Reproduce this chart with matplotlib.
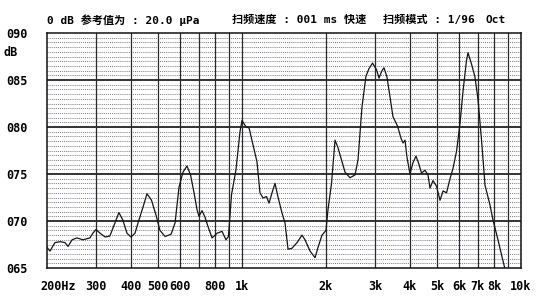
import numpy as np
import matplotlib
matplotlib.use("Agg")
import matplotlib.pyplot as plt
from matplotlib.transforms import ScaledTranslation

# Sweep response (frequency in Hz, level in dB)
freq_hz = [200, 205, 213.5, 223, 232, 238, 246, 256, 269, 285,
           292, 299.7, 310, 323, 336, 350.5, 362, 374, 387, 400,
           413.5, 424, 442, 456.5, 474, 492, 508, 530, 557, 575.5,
           594.5, 614.5, 635, 654, 673, 690, 701, 719, 737, 755.5,
           781, 814, 848, 876, 894, 917, 951, 983.5, 1000, 1034,
           1060, 1095, 1131.5, 1160, 1189, 1224, 1250, 1281, 1313, 1346,
           1391, 1426, 1462, 1510, 1575, 1641, 1682, 1753, 1827, 1873,
           1935, 2000, 2033, 2093, 2155, 2208, 2273, 2340, 2438, 2541,
           2605, 2691, 2781, 2851, 2936, 3035, 3098, 3175, 3228, 3309,
           3392, 3476, 3609, 3715, 3777, 3840, 3901, 4000, 4100, 4203,
           4290, 4398, 4527, 4641, 4719, 4837, 4978, 5125, 5254, 5409,
           5566, 5706, 5873, 6046, 6197, 6378, 6458, 6647, 6842, 7014,
           7220, 7431, 7742, 7937, 8270, 8547, 8763]
level_db = [67.2, 66.8, 67.7, 67.8, 67.7, 67.3, 68.0, 68.2, 68.0, 68.2,
            68.7, 69.1, 68.7, 68.3, 68.4, 69.8, 70.9, 70.1, 68.7, 68.3,
            68.7, 69.8, 71.5, 72.9, 72.2, 70.6, 69.0, 68.35, 68.6, 69.8,
            73.6, 75.2, 75.85, 74.9, 73.0, 71.2, 70.5, 71.1, 70.4, 69.4,
            68.2, 68.7, 68.9, 68.0, 68.35, 72.8, 75.4, 79.5, 80.7, 80.0,
            79.9, 78.1, 76.3, 73.0, 72.45, 72.6, 71.9, 73.0, 74.0, 72.55,
            70.85, 69.8, 67.0, 67.1, 67.7, 68.5, 68.0, 66.8, 66.1, 67.2,
            68.5, 69.0, 71.2, 74.0, 78.6, 77.8, 76.5, 75.2, 74.6, 74.9,
            76.5, 82.1, 85.4, 86.2, 86.8, 86.1, 85.2, 86.0, 86.3, 85.3,
            83.2, 81.1, 80.1, 78.8, 78.3, 78.6, 76.8, 75.0, 76.2, 76.9,
            76.2, 75.1, 75.4, 74.9, 73.5, 74.3, 73.7, 72.2, 73.2, 73.0,
            74.5, 75.6, 77.4, 80.4, 83.8, 87.1, 87.9, 86.7, 85.3, 82.9,
            78.6, 73.8, 71.7, 70.1, 68.0, 66.2, 64.9]

x_ticks = [200, 300, 400, 500, 600, 800, 1000, 2000, 3000, 4000,
           5000, 6000, 7000, 8000, 10000]
x_labels = ["200Hz", "300", "400", "500", "600", "800", "1k", "2k", "3k",
            "4k", "5k", "6k", "7k", "8k", "10k"]
y_ticks = [65, 70, 75, 80, 85, 90]
y_labels = ["065", "070", "075", "080", "085", "090"]
v_lines = [300, 400, 500, 600, 700, 800, 900, 1000,
           2000, 3000, 4000, 5000, 6000, 7000, 8000, 9000]

mono = ["DejaVu Sans Mono", "Noto Sans CJK SC"]
plt.rcParams["font.family"] = mono
plt.rcParams["font.weight"] = "bold"

fig = plt.figure(figsize=(5.5, 3.01), dpi=100)
fig.patch.set_facecolor("white")
ax = fig.add_axes([47 / 550, 1 - 268 / 301, 474 / 550, 235 / 301])
ax.set_xscale("log")
ax.set_xlim(200, 10000)
ax.set_ylim(65, 90)

# dotted 0.5 dB rows
for y in np.arange(65.5, 90, 0.5):
    if y % 5 == 0:
        continue
    ax.axhline(y, color="#66667a", lw=0.6, ls=(0, (1.2, 1.3)), zorder=1)
for y in [70, 75, 80, 85]:
    ax.axhline(y, color="#111111", lw=1.2, zorder=2)
for v in v_lines:
    ax.axvline(v, color="#2a2a2a", lw=0.9, zorder=2)

ax.plot(freq_hz, level_db, color="#151515", lw=0.9, zorder=3, clip_on=True)

ax.xaxis.set_major_locator(matplotlib.ticker.FixedLocator(x_ticks))
ax.xaxis.set_minor_locator(matplotlib.ticker.NullLocator())
ax.set_xticklabels(x_labels)
ax.set_yticks(y_ticks)
ax.set_yticklabels(y_labels)
ax.tick_params(length=0, labelsize=8.5)
ax.tick_params(axis="y", pad=14)
ax.tick_params(axis="x", pad=9)
lbl = ax.get_xticklabels()[0]
lbl.set_horizontalalignment("left")
lbl.set_transform(lbl.get_transform() + ScaledTranslation(-0.07, 0, fig.dpi_scale_trans))
for s in ax.spines.values():
    s.set_color("#111111")
    s.set_linewidth(1.1)

fig.text(3 / 550, 1 - 52 / 301, "dB", fontsize=8.5, va="center", ha="left")

hy = 1 - 20 / 301
fig.text(47 / 550, hy, "0 dB 参考值为 : 20.0 μPa", fontsize=8, va="center")
fig.text(232 / 550, hy, "扫频速度 : 001 ms 快速", fontsize=8, va="center")
fig.text(383 / 550, hy, "扫频模式 : 1/96", fontsize=8, va="center")
fig.text(485 / 550, hy, "Oct", fontsize=8, va="center")

fig.savefig("out.png", dpi=100)
